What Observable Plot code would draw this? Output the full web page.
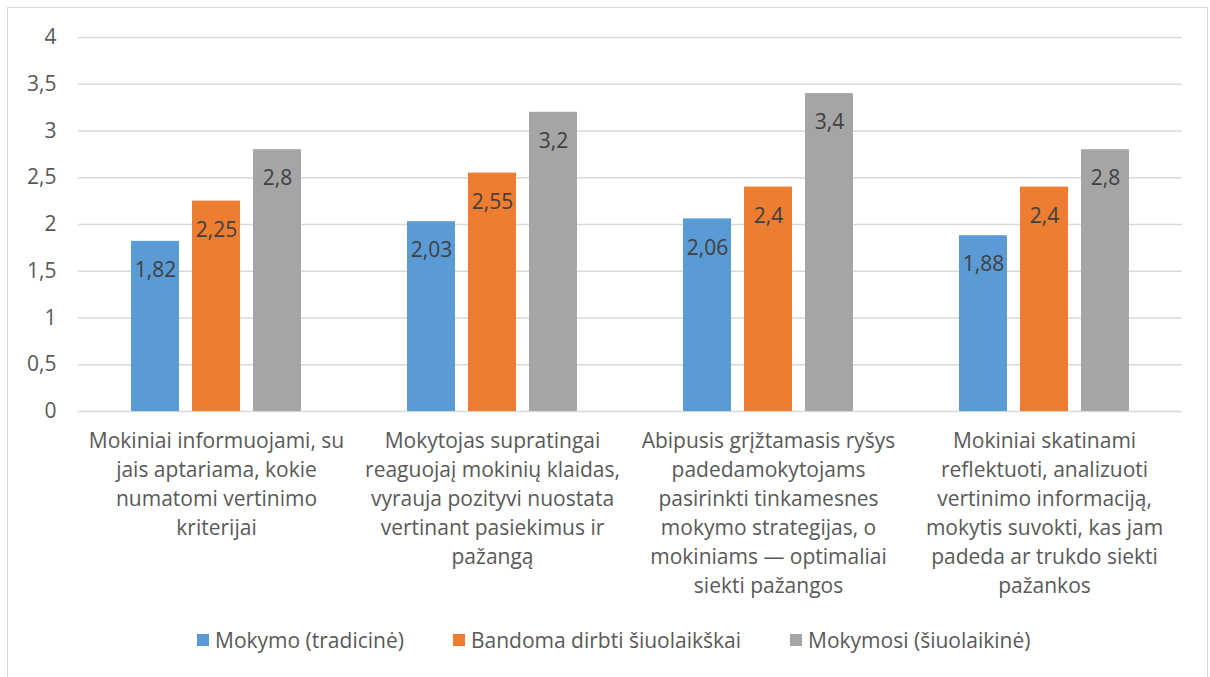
<!DOCTYPE html>
<html>
<head>
<meta charset="utf-8">
<script src="https://cdn.jsdelivr.net/npm/d3@7"></script>
<script src="https://cdn.jsdelivr.net/npm/@observablehq/plot@0.6"></script>
<style>
  html, body { margin: 0; padding: 0; background: #fff; }
  body { width: 1210px; height: 677px; position: relative; overflow: hidden; font-family: "Open Sans", sans-serif; }
  #frame { position: absolute; left: 7px; top: 7px; width: 1201px; height: 700px; border: 1px solid #d9d9d9; box-sizing: border-box; }
  #chart { position: absolute; left: 0; top: 0; }
  #legend { position: absolute; left: 197px; top: 626px; display: flex; gap: 49px; font-size: 21px; color: #595959; align-items: center; white-space: nowrap; }
  .item { display: flex; align-items: center; gap: 6px; }
  .sw { width: 12px; height: 12px; display: inline-block; }
</style>
</head>
<body>
<div id="frame"></div>
<div id="chart"></div>
<div id="legend"></div>
<script>
const categories = [
  "Mokiniai informuojami, su\njais aptariama, kokie\nnumatomi vertinimo\nkriterijai",
  "Mokytojas supratingai\nreaguojaį mokinių klaidas,\nvyrauja pozityvi nuostata\nvertinant pasiekimus ir\npažangą",
  "Abipusis grįžtamasis ryšys\npadedamokytojams\npasirinkti tinkamesnes\nmokymo strategijas, o\nmokiniams — optimaliai\nsiekti pažangos",
  "Mokiniai skatinami\nreflektuoti, analizuoti\nvertinimo informaciją,\nmokytis suvokti, kas jam\npadeda ar trukdo siekti\npažankos"
];
const series = ["Mokymo (tradicinė)", "Bandoma dirbti šiuolaikškai", "Mokymosi (šiuolaikinė)"];
const mokymo = [1.82, 2.03, 2.06, 1.88];
const bandoma = [2.25, 2.55, 2.4, 2.4];
const mokymosi = [2.8, 3.2, 3.4, 2.8];
const colors = ["#5B9BD5", "#ED7D31", "#A5A5A5"];
const yTicks = [0, 0.5, 1, 1.5, 2, 2.5, 3, 3.5, 4];

const values = [mokymo, bandoma, mokymosi];
const fmt = v => String(v).replace(".", ",");

const barMarks = [];
values.forEach((vals, i) => {
  const rows = categories.map((c, j) => ({cat: c, series: series[i], value: vals[j]}));
  const offset = (i - 1) * 61;
  barMarks.push(Plot.barY(rows, {x: "cat", y: "value", fill: colors[i], insetLeft: 114, insetRight: 114, dx: offset}));
  barMarks.push(Plot.text(rows, {x: "cat", y: "value", text: d => fmt(d.value), dx: offset, dy: 29, fill: "#404040", fontSize: 21, fontFamily: "Open Sans"}));
});

const chart = Plot.plot({
  width: 1210,
  height: 610,
  marginLeft: 78,
  marginRight: 28,
  marginTop: 37,
  marginBottom: 199,
  style: {fontFamily: "Open Sans", color: "#595959", background: "transparent"},
  x: {type: "band", domain: categories, padding: 0, label: null},
  y: {domain: [0, 4], label: null},
  marks: [
    Plot.ruleY(yTicks, {stroke: "#d9d9d9", strokeWidth: 1.3}),
    Plot.axisY({ticks: yTicks, tickSize: 0, tickPadding: 22, tickFormat: fmt, fontSize: 21, label: null}),
    ...barMarks,
    Plot.axisX({tickSize: 0, tickPadding: 16, fontSize: 21, lineHeight: 1.38, label: null, tickFormat: d => d})
  ]
});
document.getElementById("chart").appendChild(chart);

const legend = document.getElementById("legend");
series.forEach((s, i) => {
  const it = document.createElement("div");
  it.className = "item";
  const sw = document.createElement("span");
  sw.className = "sw";
  sw.style.background = colors[i];
  const t = document.createElement("span");
  t.textContent = s;
  it.appendChild(sw);
  it.appendChild(t);
  legend.appendChild(it);
});
</script>
</body>
</html>
